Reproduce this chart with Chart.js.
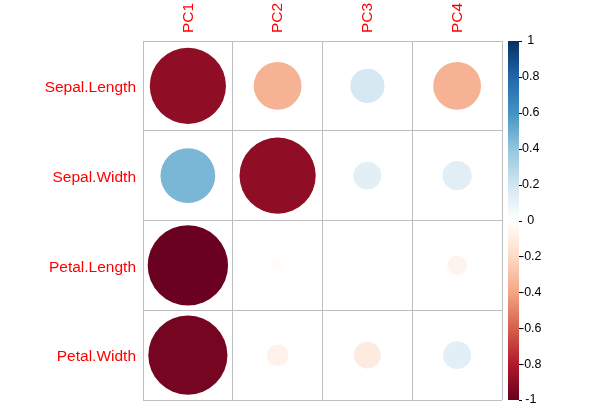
<!DOCTYPE html>
<html>
<head>
<meta charset="utf-8">
<script src="https://cdn.jsdelivr.net/npm/chart.js@4"></script>
<style>
  html, body { margin: 0; padding: 0; background: #ffffff; }
  canvas { display: block; }
</style>
</head>
<body>
<canvas id="c" width="591" height="410"></canvas>
<script>
// ---- data ----
const rowLabels = ['Sepal.Length', 'Sepal.Width', 'Petal.Length', 'Petal.Width'];
const colLabels = ['PC1', 'PC2', 'PC3', 'PC4'];
const pc1 = [-0.89, 0.46, -0.99, -0.96];
const pc2 = [-0.35, -0.89, -0.02, -0.07];
const pc3 = [0.18, 0.12, 0.00, -0.11];
const pc4 = [-0.35, 0.13, -0.06, 0.12];
const colorbarTicks = [-1, -0.8, -0.6, -0.4, -0.2, 0, 0.2, 0.4, 0.6, 0.8, 1];
const paletteStops = ['#67001F', '#B2182B', '#D6604D', '#F4A582', '#FDDBC7', '#FFFFFF',
                      '#D1E5F0', '#92C5DE', '#4393C3', '#2166AC', '#053061'];

const series = [pc1, pc2, pc3, pc4];

function hexToRgb(h) {
  return [parseInt(h.slice(1, 3), 16), parseInt(h.slice(3, 5), 16), parseInt(h.slice(5, 7), 16)];
}
const stopRgb = paletteStops.map(hexToRgb);
function colorFor(v) {
  const t = (Math.max(-1, Math.min(1, v)) + 1) / 2 * (stopRgb.length - 1);
  const i = Math.min(stopRgb.length - 2, Math.floor(t));
  const f = t - i;
  const a = stopRgb[i], b = stopRgb[i + 1];
  const c = a.map((x, k) => Math.round(x + (b[k] - x) * f));
  return 'rgb(' + c.join(',') + ')';
}

const points = [];
series.forEach((vals, ci) => {
  vals.forEach((v, ri) => {
    points.push({ x: colLabels[ci], y: rowLabels[ri], v: v });
  });
});

const gridColor = '#BEBEBE';
const labelFont = { family: '"Liberation Sans", Arial, sans-serif', size: 15.5 };

function circleRadius(ctx) {
  if (!ctx.raw) return 0;
  const sc = ctx.chart.scales.x;
  const cell = Math.abs(sc.getPixelForValue(1) - sc.getPixelForValue(0));
  const r = 0.45 * cell * Math.sqrt(Math.abs(ctx.raw.v));
  return isFinite(r) ? r : 0;
}

const colorbarPlugin = {
  id: 'colorbar',
  afterDraw(chart) {
    const ctx = chart.ctx;
    const s = chart.scales.cb;
    const area = chart.chartArea;
    const x0 = area.right + 6, w = 11;
    const yTop = s.getPixelForValue(1), yBot = s.getPixelForValue(-1);
    const g = ctx.createLinearGradient(0, yBot, 0, yTop);
    paletteStops.forEach((c, i) => g.addColorStop(i / (paletteStops.length - 1), c));
    ctx.save();
    ctx.fillStyle = g;
    ctx.fillRect(x0, yTop, w, yBot - yTop);
    ctx.strokeStyle = '#000000';
    ctx.lineWidth = 1;
    colorbarTicks.forEach(t => {
      const y = Math.round(s.getPixelForValue(t)) + 0.5;
      ctx.beginPath();
      ctx.moveTo(x0 + w, y);
      ctx.lineTo(x0 + w + 3, y);
      ctx.stroke();
    });
    ctx.restore();
  }
};

function zeroPad(scale) {
  scale.paddingTop = 0; scale.paddingBottom = 0;
  scale.paddingLeft = 0; scale.paddingRight = 0;
}

new Chart(document.getElementById('c'), {
  type: 'scatter',
  data: {
    datasets: [{
      data: points,
      showLine: false,
      pointBackgroundColor: ctx => colorFor(ctx.raw ? ctx.raw.v : 0),
      pointBorderWidth: 0,
      pointRadius: circleRadius,
      pointHoverRadius: circleRadius,
      pointHitRadius: 0
    }]
  },
  options: {
    responsive: false,
    animation: false,
    devicePixelRatio: 1,
    events: [],
    layout: { autoPadding: false, padding: { left: 0, right: 0, top: 0, bottom: 10 } },
    plugins: { legend: { display: false }, tooltip: { enabled: false } },
    scales: {
      x: {
        type: 'category',
        labels: colLabels,
        position: 'top',
        offset: true,
        grid: { offset: true, color: gridColor, drawTicks: false, lineWidth: 1 },
        border: { display: true, color: gridColor },
        ticks: { color: '#FF0000', font: labelFont, minRotation: 90, maxRotation: 90, padding: 8, labelOffset: 19, autoSkip: false },
        afterFit(scale) { scale.height = 41; zeroPad(scale); }
      },
      y: {
        type: 'category',
        labels: rowLabels,
        position: 'left',
        offset: true,
        grid: { offset: true, color: gridColor, drawTicks: false, lineWidth: 1 },
        border: { display: true, color: gridColor },
        ticks: { color: '#FF0000', font: labelFont, padding: 7, labelOffset: 2, autoSkip: false },
        afterFit(scale) { scale.width = 143; zeroPad(scale); }
      },
      cb: {
        type: 'linear',
        position: 'right',
        min: -1,
        max: 1,
        grid: { display: false, drawOnChartArea: false, drawTicks: false },
        border: { display: false },
        afterBuildTicks(scale) { scale.ticks = colorbarTicks.map(v => ({ value: v })); },
        ticks: {
          color: '#000000',
          font: { family: '"Liberation Sans", Arial, sans-serif', size: 12.5 },
          crossAlign: 'center',
          padding: 18,
          callback: v => String(v)
        },
        afterFit(scale) { scale.width = 89; zeroPad(scale); }
      }
    }
  },
  plugins: [colorbarPlugin]
});
</script>
</body>
</html>
